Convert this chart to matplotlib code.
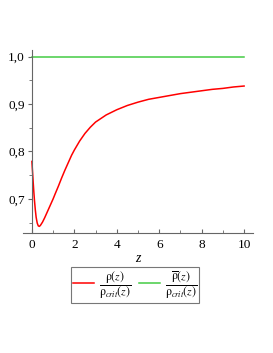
import numpy as np
import matplotlib
matplotlib.use("Agg")
import matplotlib.pyplot as plt
from matplotlib.ticker import MultipleLocator, FuncFormatter

# values
z = [0, 0.02, 0.04, 0.063, 0.09, 0.12, 0.16, 0.2, 0.25, 0.3, 0.35, 0.4, 0.5,
     0.6, 0.7, 0.8, 0.9, 1.0, 1.1, 1.25, 1.4, 1.55, 1.7, 1.87, 2.0, 2.25, 2.5,
     2.75, 3.0, 3.5, 4.0, 4.5, 5.0, 5.5, 6.0, 6.5, 7.0, 7.5, 8.0, 8.5, 9.0,
     9.5, 10.0]
ratio = [0.779, 0.764, 0.750, 0.733, 0.715, 0.697, 0.677, 0.661, 0.649, 0.643,
         0.642, 0.644, 0.651, 0.660, 0.670, 0.680, 0.690, 0.700, 0.711, 0.727,
         0.744, 0.760, 0.775, 0.792, 0.803, 0.822, 0.838, 0.851, 0.862, 0.877,
         0.888, 0.897, 0.904, 0.910, 0.914, 0.918, 0.922, 0.925, 0.928, 0.931,
         0.933, 0.936, 0.938]
mean_ratio = [1.0] * len(z)

labels = [r'$\dfrac{\mathrm{\rho}(z)}{\mathrm{\rho}_{crit}(z)}$',
          r'$\dfrac{\overline{\mathrm{\rho}}(z)}{\mathrm{\rho}_{crit}(z)}$']

plt.rcParams['font.family'] = 'Liberation Serif'
plt.rcParams['mathtext.fontset'] = 'stix'

fig = plt.figure(figsize=(2.73, 3.53), dpi=100)
ax = fig.add_axes([23/273, 1-233/353, 230/273, 183/353])

ax.plot(z, ratio, color='#ff0000', lw=1.1, label=labels[0])
ax.plot(z, mean_ratio, color='#44cc44', lw=1.1, label=labels[1])

ax.set_xlim(-0.42, 10.42)
ax.set_ylim(0.628, 1.014)

ax.spines['top'].set_visible(False)
ax.spines['right'].set_visible(False)
ax.spines['left'].set_position(('data', 0))
for s in ['left', 'bottom']:
    ax.spines[s].set_color('#666666')
    ax.spines[s].set_linewidth(0.8)

ax.xaxis.set_major_locator(MultipleLocator(2))
ax.xaxis.set_minor_locator(MultipleLocator(1))
ax.yaxis.set_major_locator(MultipleLocator(0.1))
ax.yaxis.set_minor_locator(MultipleLocator(0.05))
ax.yaxis.set_major_formatter(FuncFormatter(lambda v, p: f"{v:.1f}".replace('.', ',')))

ax.tick_params(axis='x', which='both', direction='in', color='#666666', labelsize=9.5, pad=4)
ax.tick_params(axis='x', which='major', length=3)
ax.tick_params(axis='x', which='minor', length=2)
ax.tick_params(axis='y', which='both', direction='out', color='#666666', labelsize=9.5, pad=2)
ax.tick_params(axis='y', which='major', length=3)
ax.tick_params(axis='y', which='minor', length=2)

ax.set_xlabel('z', style='italic', fontsize=10, labelpad=1)

leg = fig.legend(loc='center', bbox_to_anchor=(135/273, 1-285/353), ncol=2,
                 fontsize=8.5, frameon=True, fancybox=False, handlelength=1.8,
                 handletextpad=0.4, columnspacing=0.6, borderpad=0.2)
leg.get_frame().set_edgecolor('#555555')
leg.get_frame().set_linewidth(0.8)

fig.savefig('out.png', dpi=100)
